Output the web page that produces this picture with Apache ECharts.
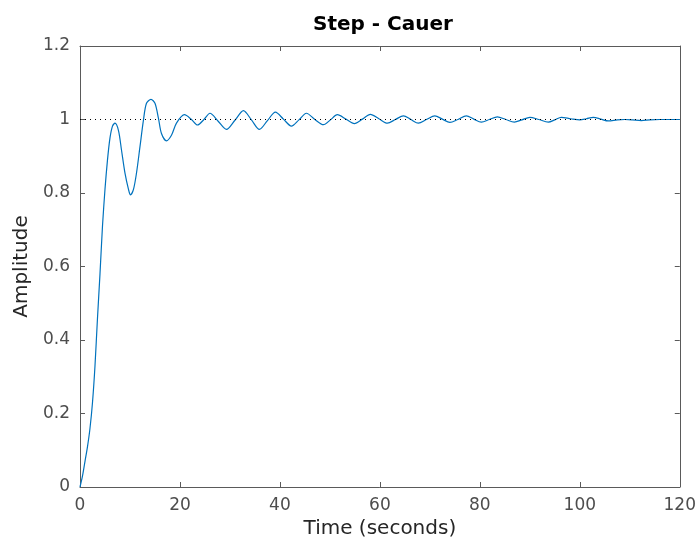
<!DOCTYPE html>
<html>
<head>
<meta charset="utf-8">
<script src="https://cdn.jsdelivr.net/npm/echarts@6/dist/echarts.min.js"></script>
<style>
html, body { margin: 0; padding: 0; background: #fff; }
#chart { width: 699px; height: 548px; }
</style>
</head>
<body>
<div id="chart"></div>
<script>
// step response: time (s) and amplitude
var timeValues = [0, 0.5, 1, 1.5, 2, 2.5, 3, 3.5, 4, 4.5, 5, 5.5, 6, 6.5, 7, 7.7, 8.3, 9, 9.7, 10.1,
    10.7, 11.3, 12, 12.7, 13.3, 14.2, 15, 15.7, 16.3, 17.3, 18.3, 19.3, 20.9, 22.3, 23.5,
    24.8, 26, 27.6, 29.3, 31, 32.7, 34.3, 35.9, 37.5, 39.1, 40.7, 42.3, 43.8, 45.3, 47, 48.7, 50.1, 51.5, 53.2,
    54.9, 56.5, 58.1, 59.8, 61.5, 63.1, 64.7, 66.2, 67.7, 69.3, 71, 72.5, 74, 75.6, 77.3, 78.8, 80.3,
    81.9, 83.5, 85.2, 86.9, 88.4, 90, 91.8, 93.7, 95, 96.3, 98.2, 100, 101.3, 102.7, 104.2, 105.7,
    107.5, 109, 110.5, 112.3, 114, 116, 118, 120];
var amplitudeValues = [0, 0.03, 0.07, 0.11, 0.16, 0.23, 0.33, 0.46, 0.58, 0.71, 0.81, 0.89, 0.95, 0.982, 0.99, 0.97, 0.917, 0.854, 0.81, 0.795,
    0.81, 0.854, 0.926, 0.999, 1.044, 1.055, 1.044, 1.003, 0.962, 0.942, 0.957, 0.99, 1.013, 1.0, 0.985,
    1.0, 1.017, 0.996, 0.973, 0.998, 1.024, 0.999, 0.973, 0.997, 1.02, 1.001, 0.982, 0.999, 1.017, 1.0, 0.986, 0.999, 1.013, 1.001,
    0.989, 1.001, 1.014, 1.002, 0.99, 1.0, 1.01, 1.0, 0.99, 1.0, 1.01, 1.001, 0.992, 1.0, 1.01, 1.001, 0.993,
    1.0, 1.007, 1.0, 0.993, 0.999, 1.006, 1.0, 0.993, 0.999, 1.006, 1.002, 0.999, 1.002, 1.006, 1.001, 0.996,
    0.999, 1.0, 0.999, 0.997, 0.999, 1.0, 1.0, 1.0];
var finalValue = 1;

var xTicks = [0, 20, 40, 60, 80, 100, 120];
var yTicks = [0, 0.2, 0.4, 0.6, 0.8, 1, 1.2];

var stepData = timeValues.map(function (t, i) { return [t, amplitudeValues[i]]; });

var chart = echarts.init(document.getElementById('chart'));
var fontName = 'DejaVu Sans';
var boxColor = '#5a5a5a';

chart.setOption({
    animation: false,
    title: {
        text: 'Step - Cauer',
        left: 378,
        top: 10,
        textAlign: 'center',
        textStyle: { fontFamily: fontName, fontSize: 20, fontWeight: 'bold', color: '#000' }
    },
    grid: { left: 80, right: 19, top: 46, bottom: 61 },
    xAxis: [{
        type: 'value',
        min: xTicks[0], max: xTicks[xTicks.length - 1], interval: 20,
        name: 'Time (seconds)',
        nameLocation: 'middle',
        nameGap: 32,
        nameTextStyle: { fontFamily: fontName, fontSize: 20, color: '#262626' },
        axisLine: { show: true, onZero: false, lineStyle: { color: boxColor, width: 1 } },
        axisTick: { show: true, inside: true, length: 5, lineStyle: { color: boxColor } },
        axisLabel: { fontFamily: fontName, fontSize: 17, color: '#4d4d4d', margin: 10 },
        splitLine: { show: false }
    }, {
        type: 'value',
        position: 'top',
        min: xTicks[0], max: xTicks[xTicks.length - 1], interval: 20,
        axisLine: { show: true, onZero: false, lineStyle: { color: boxColor, width: 1 } },
        axisTick: { show: true, inside: true, length: 5, lineStyle: { color: boxColor } },
        axisLabel: { show: false },
        splitLine: { show: false }
    }],
    yAxis: [{
        type: 'value',
        min: yTicks[0], max: yTicks[yTicks.length - 1], interval: 0.2,
        name: 'Amplitude',
        nameLocation: 'middle',
        nameGap: 45,
        nameTextStyle: { fontFamily: fontName, fontSize: 20, color: '#262626' },
        axisLine: { show: true, onZero: false, lineStyle: { color: boxColor, width: 1 } },
        axisTick: { show: true, inside: true, length: 5, lineStyle: { color: boxColor } },
        axisLabel: {
            fontFamily: fontName, fontSize: 17, color: '#4d4d4d', margin: 10,
            formatter: function (v) { return String(Math.round(v * 10) / 10); }
        },
        splitLine: { show: false }
    }, {
        type: 'value',
        position: 'right',
        min: yTicks[0], max: yTicks[yTicks.length - 1], interval: 0.2,
        axisLine: { show: true, onZero: false, lineStyle: { color: boxColor, width: 1 } },
        axisTick: { show: true, inside: true, length: 5, lineStyle: { color: boxColor } },
        axisLabel: { show: false },
        splitLine: { show: false }
    }],
    series: [{
        name: 'step',
        type: 'line',
        data: stepData,
        showSymbol: false,
        smooth: 0.3,
        lineStyle: { color: '#0072bd', width: 1.2 },
        z: 2
    }, {
        // 稳态值 dotted line
        name: 'final value',
        type: 'line',
        data: [[xTicks[0], finalValue], [xTicks[xTicks.length - 1], finalValue]],
        showSymbol: false,
        lineStyle: { color: '#000', width: 1, type: [1, 4] },
        z: 3
    }]
});
</script>
</body>
</html>
